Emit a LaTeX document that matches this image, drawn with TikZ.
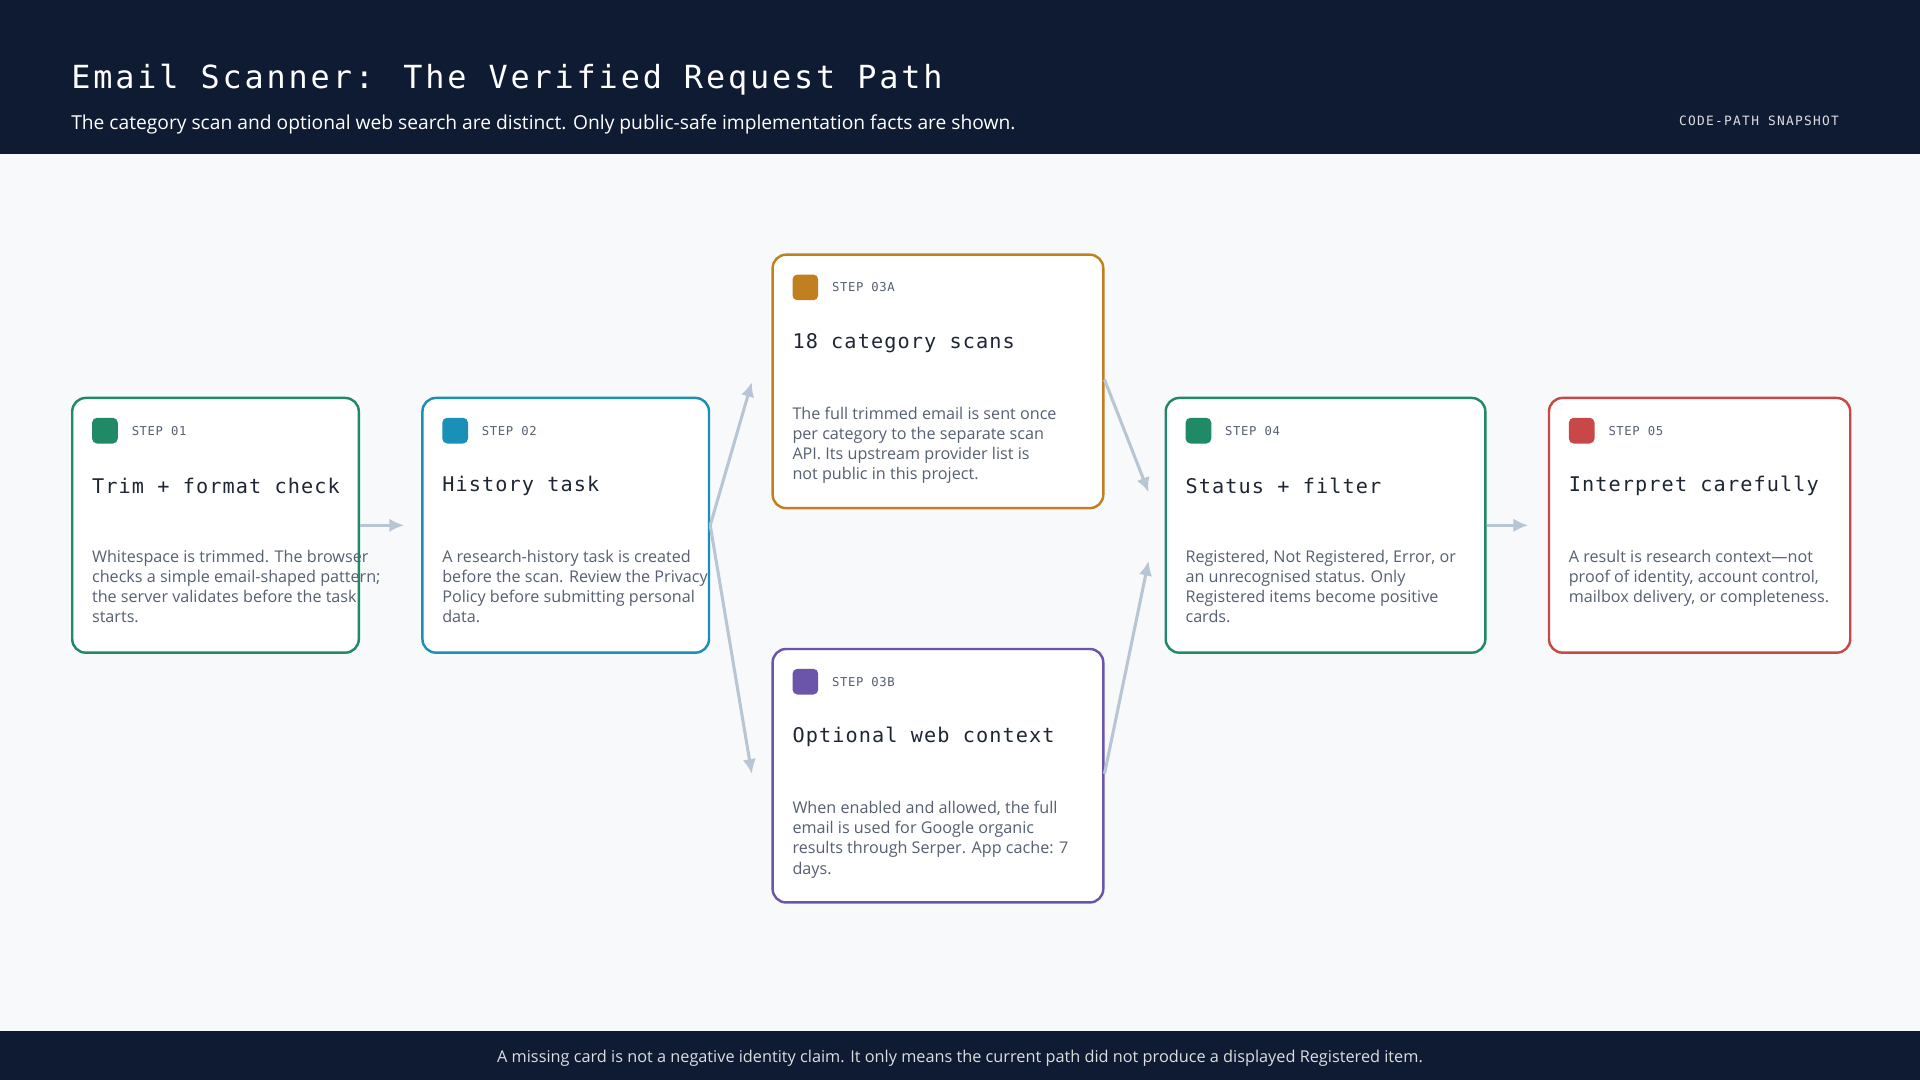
\documentclass[tikz,border=0pt]{standalone}
\usepackage{fontspec}
\setmainfont{Open Sans}
\newfontfamily\monofont{DejaVu Sans Mono}
\usetikzlibrary{positioning,arrows.meta}

\definecolor{navy}{HTML}{0F1B33}
\definecolor{paper}{HTML}{F7F9FB}
\definecolor{cgreen}{HTML}{1F8A65}
\definecolor{cteal}{HTML}{1A8FB8}
\definecolor{corange}{HTML}{C08020}
\definecolor{cpurple}{HTML}{6A55A8}
\definecolor{cred}{HTML}{C84848}
\definecolor{ink}{HTML}{1E2633}
\definecolor{muted}{HTML}{566070}
\definecolor{flow}{HTML}{B8C6D4}

\tikzset{
  card/.style={draw=#1, line width=2pt, fill=white, rounded corners=11pt, anchor=north west, inner sep=0pt},
  tag/.style={fill=#1, rounded corners=4pt, minimum size=21pt, inner sep=0pt, anchor=north west},
  steplbl/.style={anchor=west, inner sep=0pt, text=muted, font=\monofont\addfontfeature{LetterSpace=5}\fontsize{10}{12}\selectfont},
  cardttl/.style={anchor=west, inner sep=0pt, text=ink, font=\monofont\addfontfeature{LetterSpace=5.5}\fontsize{16.5}{20}\selectfont},
  cardtxt/.style={anchor=north west, inner sep=0pt, text=muted, align=left, font=\fontsize{13.2}{16.5}\selectfont},
  link/.style={draw=flow, line width=2.5pt, -{Latex[length=12pt,width=11pt]}},
}

\newcommand{\stepcard}[9]{% name, x, y, w, h, colour, step, title, text
  \node[card=#6, minimum width=#4pt, minimum height=#5pt] (#1) at (#2,#3) {};
  \node[tag=#6] (#1tag) at ([xshift=17pt,yshift=-17pt]#1.north west) {};
  \node[steplbl] (#1step) at ([xshift=11pt]#1tag.east) {#7};
  \node[cardttl] (#1ttl) at ([xshift=17pt,yshift=-73pt]#1.north west) {#8};
  \node[cardtxt] (#1txt) at ([xshift=17pt,yshift=-125pt]#1.north west) {#9};
}

\begin{document}
\begin{tikzpicture}[x=1pt,y=-1pt]
  \fill[paper] (0,0) rectangle (1568,882);
  \fill[navy] (0,0) rectangle (1568,126);
  \fill[navy] (0,842) rectangle (1568,882);

  % header
  \node[anchor=west, inner sep=0pt, text=white, font=\monofont\addfontfeature{LetterSpace=9}\fontsize{26}{30}\selectfont] (title) at (58,65) {Email Scanner: The Verified Request Path};
  \node[anchor=west, inner sep=0pt, text=white, font=\fontsize{15.7}{18}\selectfont] (subtitle) at (58,102) {The category scan and optional web search are distinct. Only public-safe implementation facts are shown.};
  \node[anchor=east, inner sep=0pt, text=white!85!navy, font=\monofont\addfontfeature{LetterSpace=10}\fontsize{10.5}{12}\selectfont] (snap) at (1502,99) {CODE-PATH SNAPSHOT};

  % cards
  \stepcard{s1}{58}{324}{234}{208}{cgreen}{STEP 01}{Trim + format check}{Whitespace is trimmed. The browser\\checks a simple email-shaped pattern;\\the server validates before the task\\starts.}
  \stepcard{s2}{344}{324}{234}{208}{cteal}{STEP 02}{History task}{A research-history task is created\\before the scan. Review the Privacy\\Policy before submitting personal\\data.}
  \stepcard{s3a}{630}{207}{270}{207}{corange}{STEP 03A}{18 category scans}{The full trimmed email is sent once\\per category to the separate scan\\API. Its upstream provider list is\\not public in this project.}
  \stepcard{s3b}{630}{529}{270}{207}{cpurple}{STEP 03B}{Optional web context}{When enabled and allowed, the full\\email is used for Google organic\\results through Serper. App cache: 7\\days.}
  \stepcard{s4}{951}{324}{261}{208}{cgreen}{STEP 04}{Status + filter}{Registered, Not Registered, Error, or\\an unrecognised status. Only\\Registered items become positive\\cards.}
  \stepcard{s5}{1264}{324}{246}{208}{cred}{STEP 05}{Interpret carefully}{A result is research context---not\\proof of identity, account control,\\mailbox delivery, or completeness.}

  % connectors
  \coordinate (s3ain) at ([xshift=-16pt,yshift=-105pt]s3a.north west);
  \coordinate (s3bin) at ([xshift=-16pt,yshift=-103pt]s3b.north west);
  \coordinate (s4ina) at ([xshift=-13pt,yshift=-78pt]s4.north west);
  \coordinate (s4inb) at ([xshift=-13pt,yshift=-134pt]s4.north west);
  \draw[link] (s1.east) -- ([xshift=-14pt]s2.west);
  \draw[link] (s2.east) -- (s3ain);
  \draw[link] (s2.east) -- (s3bin);
  \draw[link] ([yshift=-103pt]s3a.north east) -- (s4ina);
  \draw[link] ([yshift=-103pt]s3b.north east) -- (s4inb);
  \draw[link] (s4.east) -- ([xshift=-16pt]s5.west);

  % footer
  \node[inner sep=0pt, text=white!85!navy, font=\fontsize{13.3}{15}\selectfont] (note) at (784,864) {A missing card is not a negative identity claim. It only means the current path did not produce a displayed Registered item.};
\end{tikzpicture}
\end{document}
